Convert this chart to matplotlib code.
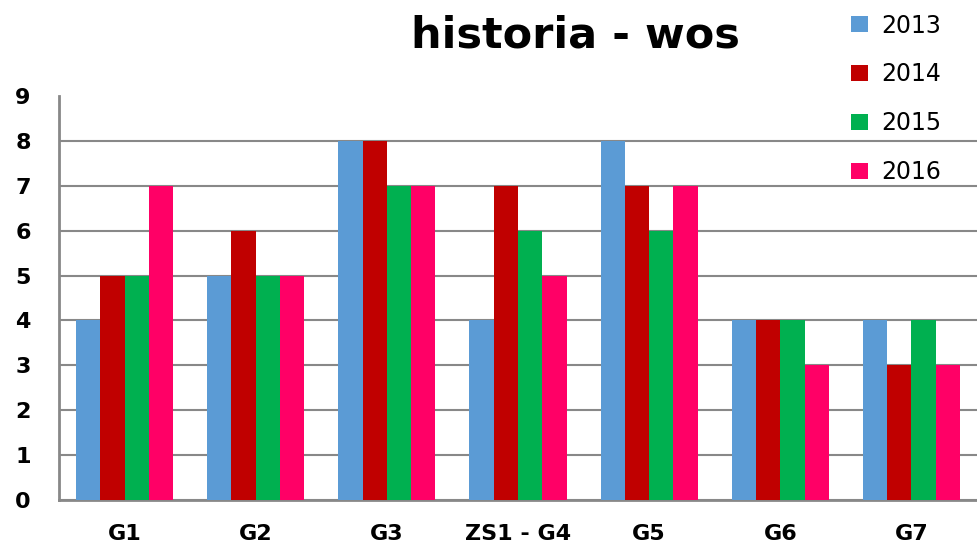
import matplotlib.pyplot as plt
import numpy as np

categories = ['G1', 'G2', 'G3', 'ZS1 - G4', 'G5', 'G6', 'G7']
years = ['2013', '2014', '2015', '2016']
values_2013 = [4, 5, 8, 4, 8, 4, 4]
values_2014 = [5, 6, 8, 7, 7, 4, 3]
values_2015 = [5, 5, 7, 6, 6, 4, 4]
values_2016 = [7, 5, 7, 5, 7, 3, 3]
colors = ['#5B9BD5', '#C00000', '#00B050', '#FF0066']

series = [values_2013, values_2014, values_2015, values_2016]

fig = plt.figure(figsize=(9.77, 5.44), dpi=100)
ax = fig.add_axes([0.0604, 0.081, 0.9396, 0.7425])

x = np.arange(len(categories))
w = 0.185
for i, (vals, col, yr) in enumerate(zip(series, colors, years)):
    ax.bar(x + (i - 1.5) * w, vals, width=w, color=col, label=yr,
           zorder=3, linewidth=0)

ax.set_xlim(-0.5, len(categories) - 0.5)
ax.set_ylim(0, 9)
ax.set_yticks(range(0, 10))
ax.yaxis.grid(True, color='#888888', linewidth=1.5, zorder=0)
ax.set_axisbelow(True)
ax.get_ygridlines()[-1].set_visible(False)
for s in ['top', 'right']:
    ax.spines[s].set_visible(False)
for s in ['left', 'bottom']:
    ax.spines[s].set_color('#888888')
    ax.spines[s].set_linewidth(2)
ax.tick_params(length=0, labelsize=16)
ax.tick_params(axis='y', pad=26)
ax.tick_params(axis='x', pad=17)
ax.set_xticks(x)
ax.set_xticklabels(categories, fontweight='bold')
for lbl in ax.get_yticklabels():
    lbl.set_fontweight('bold')
    lbl.set_horizontalalignment('center')

fig.text(0.5885, 0.935, 'historia - wos', ha='center', va='center',
         fontsize=31, fontweight='bold')

fig.legend(loc='upper left', bbox_to_anchor=(0.849, 1.014), frameon=False,
           fontsize=17, labelspacing=1.05, handlelength=0.75, handleheight=0.65,
           handletextpad=0.55)

fig.savefig('out.png', dpi=100)
